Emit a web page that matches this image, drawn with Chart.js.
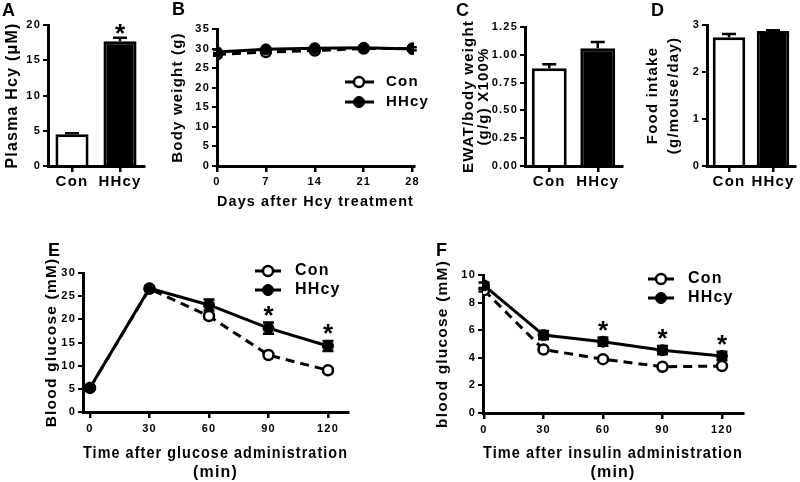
<!DOCTYPE html>
<html><head><meta charset="utf-8">
<script src="https://cdn.jsdelivr.net/npm/chart.js@4"></script>
<style>
html,body{margin:0;padding:0;background:#fff;}
body{width:800px;height:482px;position:relative;overflow:hidden;font-family:"Liberation Sans",Arial,sans-serif;}
canvas{position:absolute;}
.lbl{position:absolute;font-weight:bold;font-size:18px;line-height:18px;color:#000;letter-spacing:0;}
</style></head><body>
<canvas id="cA"></canvas><canvas id="cB"></canvas><canvas id="cC"></canvas><canvas id="cD"></canvas><canvas id="cE"></canvas><canvas id="cF"></canvas>
<div class="lbl" style="left:2px;top:1px">A</div>
<div class="lbl" style="left:172px;top:0px">B</div>
<div class="lbl" style="left:456px;top:1px">C</div>
<div class="lbl" style="left:651px;top:1px">D</div>
<div class="lbl" style="left:48px;top:241px">E</div>
<div class="lbl" style="left:436px;top:241px">F</div>
<script>
// ---------- data ----------
const barCats = ['Con', 'HHcy'];
const seriesNames = ['Con', 'HHcy'];
// A
const aVals = [4.5, 17.7];
const aErr = [0.15, 0.5];
const aSig = [false, true];
const aTicks = [0, 5, 10, 15, 20];
// B
const bDays = [0, 7, 14, 21, 28];
const bCon = [28.5, 29.1, 29.5, 30.0, 30.0];
const bHHcy = [29.1, 29.8, 30.1, 30.2, 29.9];
const bConErr = [0.4, 0.4, 0.4, 0.4, 0.4];
const bHHcyErr = [0.5, 0.4, 0.4, 0.4, 0.4];
const bYTicks = [0, 5, 10, 15, 20, 25, 30, 35];
const bXTicks = [0, 7, 14, 21, 28];
// C
const cVals = [0.88, 1.06];
const cErr = [0.035, 0.055];
const cTicks = [0, 0.25, 0.5, 0.75, 1.0, 1.25];
// D
const dVals = [2.74, 2.87];
const dErr = [0.07, 0.02];
const dTicks = [0, 1, 2, 3];
// E
const eTime = [0, 30, 60, 90, 120];
const eCon = [5.2, 26.6, 20.7, 12.3, 9.0];
const eHHcy = [5.25, 26.7, 23.1, 18.1, 14.25];
const eConErr = [0.3, 0.4, 0.5, 0.4, 0.4];
const eHHcyErr = [0.3, 0.5, 1.2, 1.2, 1.1];
const eSig = [false, false, false, true, true];
const eYTicks = [0, 5, 10, 15, 20, 25, 30];
const eXTicks = [0, 30, 60, 90, 120];
// F
const fTime = [0, 30, 60, 90, 120];
const fCon = [8.9, 4.6, 3.9, 3.35, 3.4];
const fHHcy = [9.25, 5.65, 5.17, 4.55, 4.13];
const fConErr = [0.1, 0.1, 0.1, 0.1, 0.1];
const fHHcyErr = [0.2, 0.3, 0.3, 0.3, 0.3];
const fSig = [false, false, true, true, true];
const fYTicks = [0, 2, 4, 6, 8, 10];
const fXTicks = [0, 30, 60, 90, 120];

// ---------- setup ----------
const FF = '"Liberation Sans", Arial, sans-serif';
const LS = '1.2px';
Chart.defaults.font.family = FF;
Chart.defaults.color = '#000';

const lsPlugin = {
  id: 'lsp',
  afterInit(c) { c.ctx.letterSpacing = LS; },
  beforeUpdate(c) { c.ctx.letterSpacing = LS; },
  beforeDraw(c) { c.ctx.letterSpacing = LS; }
};
function drawErr(chart, opts) {
  const ctx = chart.ctx, ys = chart.scales.y;
  chart.data.datasets.forEach((ds, di) => {
    if (!ds.errors) return;
    const meta = chart.getDatasetMeta(di);
    ctx.save();
    ctx.strokeStyle = '#000'; ctx.lineWidth = opts.lw || 2.5; ctx.setLineDash([]);
    meta.data.forEach((el, i) => {
      const v = ds.data[i]; const val = (typeof v === 'object') ? v.y : v; const e = ds.errors[i];
      const x = el.x, yT = ys.getPixelForValue(val + e);
      const yB = opts.up ? ys.getPixelForValue(val) : ys.getPixelForValue(val - e);
      const cw = (opts.cap || 10) / 2;
      ctx.beginPath();
      ctx.moveTo(x, yT); ctx.lineTo(x, yB);
      ctx.moveTo(x - cw, yT); ctx.lineTo(x + cw, yT);
      if (!opts.up) { ctx.moveTo(x - cw, yB); ctx.lineTo(x + cw, yB); }
      ctx.stroke();
    });
    ctx.restore();
  });
}
const errPlugin = {
  id: 'errbars',
  beforeDatasetsDraw(chart, args, opts) { if (opts.behind) drawErr(chart, opts); },
  afterDatasetsDraw(chart, args, opts) { if (opts.cap && !opts.behind) drawErr(chart, opts); }
};
const starPlugin = {
  id: 'stars',
  afterDatasetsDraw(chart, args, opts) {
    if (!opts.size) return;
    const ctx = chart.ctx, ys = chart.scales.y;
    chart.data.datasets.forEach((ds, di) => {
      if (!ds.stars) return;
      const meta = chart.getDatasetMeta(di);
      meta.data.forEach((el, i) => {
        if (!ds.stars[i]) return;
        const v = ds.data[i]; const val = (typeof v === 'object') ? v.y : v;
        const cy = ys.getPixelForValue(val + (ds.errors ? ds.errors[i] : 0)) - opts.gap;
        ctx.save();
        ctx.letterSpacing = '0px';
        ctx.fillStyle = '#000'; ctx.font = 'bold ' + opts.size + 'px ' + FF;
        ctx.textAlign = 'center'; ctx.textBaseline = 'alphabetic';
        ctx.fillText('*', el.x, cy + 0.58 * opts.size);
        ctx.restore();
      });
    });
  }
};
const legPlugin = {
  id: 'pleg',
  afterDraw(chart, args, opts) {
    if (!opts.items) return;
    const ctx = chart.ctx, ox = chart.canvas.offsetLeft, oy = chart.canvas.offsetTop;
    opts.items.forEach(it => {
      const ds = chart.data.datasets[it.ds];
      const y = it.y - oy;
      ctx.save();
      ctx.strokeStyle = '#000'; ctx.lineWidth = 3; ctx.setLineDash([]);
      ctx.beginPath(); ctx.moveTo(it.x1 - ox, y); ctx.lineTo(it.x2 - ox, y); ctx.stroke();
      ctx.beginPath(); ctx.arc(it.mx - ox, y, ds.pointRadius, 0, Math.PI * 2);
      ctx.fillStyle = ds.pointBackgroundColor; ctx.fill();
      ctx.lineWidth = ds.pointBorderWidth; ctx.stroke();
      ctx.fillStyle = '#000'; ctx.font = 'bold ' + opts.size + 'px ' + FF;
      ctx.textAlign = 'left'; ctx.textBaseline = 'middle';
      ctx.fillText(ds.label, it.tx - ox, y);
      ctx.restore();
    });
  }
};
Chart.register(lsPlugin, errPlugin, starPlugin, legPlugin);

const bf = s => ({ family: FF, size: s, weight: 'bold' });
function yScale(o) {
  return {
    type: 'linear', position: 'left', min: o.min, max: o.max,
    afterBuildTicks: s => { s.ticks = o.ticks.map(v => ({ value: v })); },
    border: { display: true, color: '#000', width: 3 },
    grid: { display: true, drawOnChartArea: false, drawTicks: true, tickLength: 5, color: '#000', lineWidth: 2 },
    ticks: { color: '#000', font: bf(11), padding: 2, callback: o.fmt || (v => String(v)) },
    title: { display: true, text: o.title, color: '#000', font: { family: FF, size: o.tsize, weight: 'bold', lineHeight: o.tlh }, padding: { top: o.tpad, bottom: 0 } }
  };
}
function xCat() {
  return {
    type: 'category', offset: true,
    border: { display: true, color: '#000', width: 3 },
    grid: { display: true, offset: false, drawOnChartArea: false, drawTicks: true, tickLength: 6, color: '#000', lineWidth: 2.5 },
    ticks: { color: '#000', font: bf(15), padding: 1, maxRotation: 0, autoSkip: false }
  };
}
function xLin(o) {
  return {
    type: 'linear', position: 'bottom', min: o.min, max: o.max,
    afterBuildTicks: s => { s.ticks = o.ticks.map(v => ({ value: v })); },
    border: { display: true, color: '#000', width: 3 },
    grid: { display: true, drawOnChartArea: false, drawTicks: true, tickLength: 6, color: '#000', lineWidth: 2.5 },
    ticks: { color: '#000', font: bf(11), padding: o.pad, maxRotation: 0, autoSkip: false },
    title: { display: true, text: o.title, color: '#000', font: { family: FF, size: o.tsize, weight: 'bold', lineHeight: 1.2 }, padding: { top: 0, bottom: o.tpb || 0 } }
  };
}
function conDs(xs, ys, errs) {
  return { label: seriesNames[0], data: xs.map((x, i) => ({ x: x, y: ys[i] })), borderColor: '#000', borderWidth: 3, borderDash: [9, 6],
    pointRadius: 5, pointHoverRadius: 5, pointBackgroundColor: '#fff', pointBorderColor: '#000', pointBorderWidth: 2.5,
    fill: false, tension: 0, order: 1, errors: errs };
}
function hhDs(xs, ys, errs, sig) {
  return { label: seriesNames[1], data: xs.map((x, i) => ({ x: x, y: ys[i] })), borderColor: '#000', borderWidth: 3, borderDash: [],
    pointRadius: 5.5, pointHoverRadius: 5.5, pointBackgroundColor: '#000', pointBorderColor: '#000', pointBorderWidth: 1,
    fill: false, tension: 0, order: 0, errors: errs, stars: sig };
}
function barDs(vals, errs, sig, pct) {
  return { data: vals, backgroundColor: ['#fff', '#000'], borderColor: '#000', borderWidth: 3,
    barPercentage: pct, categoryPercentage: 1, errors: errs, stars: sig };
}
function mk(id, box, area, cfg) {
  const cv = document.getElementById(id);
  Object.assign(cv.style, { left: box.x + 'px', top: box.y + 'px', width: box.w + 'px', height: box.h + 'px' });
  cv.width = box.w; cv.height = box.h;
  const yW = area.l - box.x, xH = box.y + box.h - area.b;
  const o = cfg.options;
  o.responsive = false; o.animation = false; o.devicePixelRatio = 1;
  o.layout = { padding: { left: 0, bottom: 0, top: area.t - box.y, right: box.x + box.w - area.r } };
  o.scales.y.afterFit = s => { s.width = yW; };
  o.scales.x.afterFit = s => { s.height = xH; };
  o.plugins = Object.assign({ legend: { display: false }, tooltip: { enabled: false } }, o.plugins || {});
  return new Chart(cv, cfg);
}

// A
mk('cA', { x: 0, y: 0, w: 150, h: 200 }, { l: 48, t: 25, r: 144, b: 166 }, {
  type: 'bar', data: { labels: barCats, datasets: [barDs(aVals, aErr, aSig, 0.69)] },
  options: { scales: { x: xCat(), y: yScale({ min: 0, max: 20, ticks: aTicks, title: 'Plasma Hcy (μM)', tsize: 16, tlh: 1.2, tpad: 2.5 }) },
    plugins: { errbars: { up: true, cap: 14, lw: 2.5 }, stars: { size: 26, gap: 11 } } }
});
// B
mk('cB', { x: 165, y: 0, w: 265, h: 211 }, { l: 217, t: 29, r: 414, b: 166 }, {
  type: 'line', data: { datasets: [conDs(bDays, bCon, bConErr), hhDs(bDays, bHHcy, bHHcyErr, null)] },
  options: { scales: { x: xLin({ min: 0, max: 28.2, ticks: bXTicks, pad: 3, title: 'Days after Hcy treatment', tsize: 15 }),
    y: yScale({ min: 0, max: 35, ticks: bYTicks, title: 'Body weight (g)', tsize: 15, tlh: 1.2, tpad: 4 }) },
    plugins: { errbars: { behind: true, cap: 8, lw: 2 },
      pleg: { size: 15, items: [{ ds: 0, x1: 345, x2: 374, mx: 359, y: 82, tx: 386 }, { ds: 1, x1: 345, x2: 374, mx: 359, y: 102, tx: 386 }] } } }
});
// C
mk('cC', { x: 455, y: 0, w: 172, h: 200 }, { l: 525, t: 27, r: 622, b: 166 }, {
  type: 'bar', data: { labels: barCats, datasets: [barDs(cVals, cErr, null, 0.72)] },
  options: { scales: { x: xCat(), y: yScale({ min: 0, max: 1.25, ticks: cTicks, fmt: v => v.toFixed(2),
      title: ['EWAT/body weight', '(g/g) X100%'], tsize: 15, tlh: 0.95, tpad: 7 }) },
    plugins: { errbars: { up: true, cap: 14, lw: 2.5 } } }
});
// D
mk('cD', { x: 635, y: 0, w: 165, h: 200 }, { l: 707, t: 25, r: 795, b: 166 }, {
  type: 'bar', data: { labels: barCats, datasets: [barDs(dVals, dErr, null, 0.74)] },
  options: { scales: { x: xCat(), y: yScale({ min: 0, max: 3, ticks: dTicks,
      title: ['Food intake', '(g/mouse/day)'], tsize: 15, tlh: 1.4, tpad: 7.5 }) },
    plugins: { errbars: { up: true, cap: 14, lw: 2.5 } } }
});
// E
mk('cE', { x: 30, y: 240, w: 330, h: 242 }, { l: 83, t: 273, r: 348, b: 412 }, {
  type: 'line', data: { datasets: [conDs(eTime, eCon, eConErr), hhDs(eTime, eHHcy, eHHcyErr, eSig)] },
  options: { scales: { x: xLin({ min: -3.53, max: 130.1, ticks: eXTicks, pad: 4, title: ['Time after glucose administration', '(min)'], tsize: 16 }),
    y: yScale({ min: 0, max: 30, ticks: eYTicks, title: 'Blood glucose (mM)', tsize: 15.5, tlh: 1.2, tpad: 12.7 }) },
    plugins: { errbars: { behind: true, cap: 11, lw: 2.5 }, stars: { size: 26, gap: 14 },
      pleg: { size: 16, items: [{ ds: 0, x1: 255, x2: 281, mx: 268, y: 271, tx: 295 }, { ds: 1, x1: 255, x2: 281, mx: 268, y: 290, tx: 295 }] } } }
});
// F
mk('cF', { x: 430, y: 240, w: 330, h: 242 }, { l: 483, t: 275, r: 743, b: 413 }, {
  type: 'line', data: { datasets: [conDs(fTime, fCon, fConErr), hhDs(fTime, fHHcy, fHHcyErr, fSig)] },
  options: { scales: { x: xLin({ min: -0.5, max: 130.6, ticks: fXTicks, pad: 4, title: ['Time after insulin administration', '(min)'], tsize: 16 }),
    y: yScale({ min: 0, max: 10, ticks: fYTicks, title: 'blood glucose (mM)', tsize: 15.5, tlh: 1.2, tpad: 3.7 }) },
    plugins: { errbars: { behind: true, cap: 11, lw: 2.5 }, stars: { size: 26, gap: 14 },
      pleg: { size: 16, items: [{ ds: 0, x1: 648, x2: 674, mx: 661, y: 279, tx: 688 }, { ds: 1, x1: 648, x2: 674, mx: 661, y: 298, tx: 688 }] } } }
});
</script>
</body></html>
